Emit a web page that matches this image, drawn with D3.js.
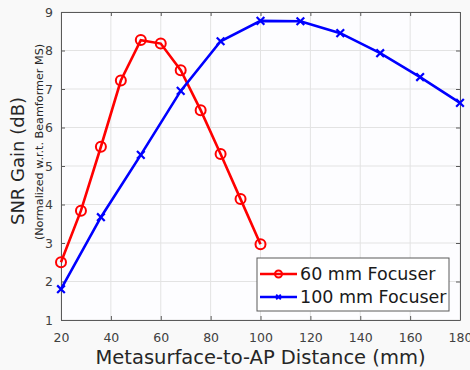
<!DOCTYPE html>
<html>
<head>
<meta charset="utf-8">
<script src="https://cdn.jsdelivr.net/npm/d3@7"></script>
<style>
  body { margin: 0; background: #f8f8f8; }
  svg { display: block; font-family: "DejaVu Sans", Verdana, sans-serif; }
</style>
</head>
<body>
<div id="chart"></div>
<script>
// 60 mm focuser
var dist60 = [20, 28, 36, 44, 52, 60, 68, 76, 84, 92, 100];
var gain60 = [2.5, 3.84, 5.5, 7.22, 8.27, 8.18, 7.49, 6.45, 5.31, 4.14, 2.97];
// 100 mm focuser
var dist100 = [20, 36, 52, 68, 84, 100, 116, 132, 148, 164, 180];
var gain100 = [1.8, 3.67, 5.29, 6.95, 8.24, 8.77, 8.76, 8.45, 7.93, 7.31, 6.64];

var xTicks = [20, 40, 60, 80, 100, 120, 140, 160, 180];
var yTicks = [1, 2, 3, 4, 5, 6, 7, 8, 9];
var names = ["60 mm Focuser", "100 mm Focuser"];

var width = 470, height = 370;
var margin = {top: 12, right: 10, bottom: 50, left: 61};
var w = width - margin.left - margin.right;
var h = height - margin.top - margin.bottom;

var svg = d3.select("#chart").append("svg")
    .attr("width", width)
    .attr("height", height);

svg.append("rect")
    .attr("width", width)
    .attr("height", height)
    .style("fill", "#f9f9f9");

var g = svg.append("g")
    .attr("transform", "translate(" + margin.left + "," + margin.top + ")");

var x = d3.scaleLinear().domain([20, 180]).range([0, w]);
var y = d3.scaleLinear().domain([1, 9]).range([h, 0]);

g.append("rect")
    .attr("width", w)
    .attr("height", h)
    .style("fill", "#fdfdff");

// grid
g.selectAll(".gx").data(xTicks).enter().append("line")
    .attr("x1", d => x(d)).attr("x2", d => x(d))
    .attr("y1", 0).attr("y2", h)
    .style("stroke", "#e3e3e3")
    .style("stroke-width", 1);

g.selectAll(".gy").data(yTicks).enter().append("line")
    .attr("x1", 0).attr("x2", w)
    .attr("y1", d => y(d)).attr("y2", d => y(d))
    .style("stroke", "#e3e3e3")
    .style("stroke-width", 1);

// axes (ticks inside, box on)
var xAxis = g.append("g")
    .attr("transform", "translate(0," + h + ")")
    .call(d3.axisBottom(x).tickValues(xTicks).tickSizeInner(-4).tickSizeOuter(0).tickPadding(13));
var xTop = g.append("g")
    .call(d3.axisTop(x).tickValues(xTicks).tickSizeInner(-4).tickSizeOuter(0).tickFormat(""));
var yAxis = g.append("g")
    .call(d3.axisLeft(y).tickValues(yTicks).tickSizeInner(-4).tickSizeOuter(0).tickPadding(8));
var yRight = g.append("g")
    .attr("transform", "translate(" + w + ",0)")
    .call(d3.axisRight(y).tickValues(yTicks).tickSizeInner(-4).tickSizeOuter(0).tickFormat(""));

[xAxis, xTop, yAxis, yRight].forEach(function (a) {
    a.select(".domain").style("stroke", "#5a5a5a");
    a.selectAll(".tick line").style("stroke", "#5a5a5a");
    a.selectAll("text")
        .style("font-family", "DejaVu Sans, sans-serif")
        .style("font-size", "12.5px")
        .style("fill", "#404040");
});

// lines
var line = d3.line().x(d => x(d[0])).y(d => y(d[1]));
var pts60 = d3.zip(dist60, gain60);
var pts100 = d3.zip(dist100, gain100);

g.append("path").datum(pts60).attr("d", line)
    .style("fill", "none").style("stroke", "#ff0000").style("stroke-width", 2.6);
g.selectAll(".m60").data(pts60).enter().append("circle")
    .attr("cx", d => x(d[0])).attr("cy", d => y(d[1])).attr("r", 5)
    .style("fill", "none").style("stroke", "#ff0000").style("stroke-width", 2);

g.append("path").datum(pts100).attr("d", line)
    .style("fill", "none").style("stroke", "#0000ff").style("stroke-width", 2.6);
var cross = d3.symbol().type(d3.symbolX).size(40);
g.selectAll(".m100").data(pts100).enter().append("path")
    .attr("d", cross)
    .attr("transform", d => "translate(" + x(d[0]) + "," + y(d[1]) + ")")
    .style("fill", "none").style("stroke", "#0000ff").style("stroke-width", 2.2);

// labels
svg.append("text")
    .attr("x", margin.left + w / 2)
    .attr("y", 364)
    .attr("text-anchor", "middle")
    .style("font-size", "19.5px")
    .style("fill", "#262626")
    .text("Metasurface-to-AP Distance (mm)");

svg.append("text")
    .attr("transform", "translate(24,161) rotate(-90)")
    .attr("text-anchor", "middle")
    .style("font-size", "18px")
    .style("fill", "#262626")
    .text("SNR Gain (dB)");

svg.append("text")
    .attr("transform", "translate(43,142) rotate(-90)")
    .attr("text-anchor", "middle")
    .style("font-size", "11.2px")
    .style("fill", "#262626")
    .text("(Normalized w.r.t. Beamformer MS)");

// legend
var leg = svg.append("g").attr("transform", "translate(257,258)");
leg.append("rect")
    .attr("width", 192).attr("height", 53)
    .style("fill", "#ffffff").style("stroke", "#5a5a5a").style("stroke-width", 1);

var legColors = ["#ff0000", "#0000ff"];
names.forEach(function (n, i) {
    var ry = 16 + i * 23;
    leg.append("line")
        .attr("x1", 3).attr("x2", 40).attr("y1", ry).attr("y2", ry)
        .style("stroke", legColors[i]).style("stroke-width", 2.5);
    if (i === 0) {
        leg.append("circle").attr("cx", 21.5).attr("cy", ry).attr("r", 3.5)
            .style("fill", "none").style("stroke", legColors[i]).style("stroke-width", 2);
    } else {
        leg.append("path").attr("d", d3.symbol().type(d3.symbolX).size(16))
            .attr("transform", "translate(21.5," + ry + ")")
            .style("fill", "none").style("stroke", legColors[i]).style("stroke-width", 2);
    }
    leg.append("text")
        .attr("x", 43).attr("y", ry + 6)
        .style("font-size", "17.5px")
        .style("fill", "#1a1a1a")
        .text(n);
});
</script>
</body>
</html>
